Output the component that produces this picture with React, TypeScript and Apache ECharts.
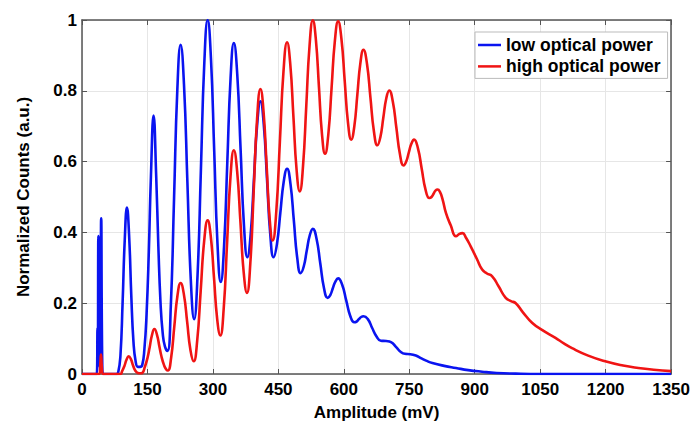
import React, { useEffect, useRef } from "react";
import * as echarts from "echarts";

const xTicks = { min: 0, max: 1350, interval: 150 };
const yTicks = { min: 0, max: 1, interval: 0.2 };

const seriesNames = ["low optical power", "high optical power"];

// [amplitude (mV), normalized counts]
const lowPower: [number, number][] = [
  [0, 0], [34, 0], [35.5, 0.13], [36.3, 0.02], [37.5, 0.39], [39.5, 0.03], [42, 0.04], [44, 0.44], [46.5, 0.02], [49, 0],
  [79, 0], [83, 0.005], [88, 0.05], [93, 0.2], [98, 0.38], [103, 0.47], [108, 0.39], [113, 0.22], [118, 0.09], [123, 0.035], [128, 0.02], [133, 0.02],
  [138, 0.025], [143, 0.07], [148, 0.17], [153, 0.34], [158, 0.56], [164, 0.73], [170, 0.56], [175, 0.36], [180, 0.2], [185, 0.115], [190, 0.078], [196, 0.065],
  [203.5, 0.191], [211, 0.498], [218.5, 0.804], [226, 0.93], [233.75, 0.817], [241.5, 0.543], [249.25, 0.268], [257, 0.155],
  [264.75, 0.278], [272.5, 0.578], [280.25, 0.877], [288, 1.0], [295.5, 0.892], [303, 0.63], [310.5, 0.368], [318, 0.26],
  [325.5, 0.359], [333, 0.598], [340.5, 0.836], [348, 0.935], [355.75, 0.847], [363.5, 0.633], [371.25, 0.418], [379, 0.33],
  [386.5, 0.394], [394, 0.55], [401.5, 0.706], [409, 0.77], [416.5, 0.706], [424, 0.55], [431.5, 0.394], [439, 0.33],
  [446.75, 0.367], [454.5, 0.455], [462.25, 0.543], [470, 0.58], [477.75, 0.537], [485.5, 0.433], [493.25, 0.328], [501, 0.285],
  [508, 0.303], [515, 0.348], [522, 0.392], [529, 0.41], [537.5, 0.382], [546, 0.313], [554.5, 0.243], [563, 0.215],
  [569, 0.223], [575, 0.243], [581, 0.262], [587, 0.27], [596.25, 0.252], [605.5, 0.208], [614.75, 0.164], [624, 0.146],
  [629.25, 0.148], [634.5, 0.155], [639.75, 0.161], [645, 0.163], [655, 0.155], [665, 0.13], [675, 0.106], [685, 0.094],
  [697, 0.093], [708, 0.09], [720, 0.076], [730, 0.063], [740, 0.057], [752, 0.056], [765, 0.052], [778, 0.044],
  [790, 0.037], [803, 0.031], [830, 0.023], [857, 0.017], [885, 0.011], [917, 0.0065], [950, 0.003], [994, 0.001],
  [1050, 0], [1350, 0],
];

const highPower: [number, number][] = [
  [0, 0], [40, 0], [42, 0.03], [43.5, 0.055], [45.5, 0.02], [48, 0],
  [88, 0], [92, 0.008], [97, 0.022], [102, 0.04], [107, 0.05], [112, 0.042], [117, 0.024], [122, 0.01], [128, 0.003], [134, 0.002], [139, 0.004],
  [144, 0.02], [150, 0.045], [155, 0.075], [160, 0.108], [166, 0.127], [172, 0.11], [177, 0.08], [182, 0.05], [188, 0.025], [193, 0.013], [197, 0.01],
  [204.25, 0.046], [211.5, 0.134], [218.75, 0.221], [226, 0.257], [233.5, 0.225], [241, 0.147], [248.5, 0.068], [256, 0.036],
  [264, 0.094], [272, 0.235], [280, 0.376], [288, 0.434], [295.25, 0.387], [302.5, 0.272], [309.75, 0.156], [317, 0.109],
  [324.75, 0.185], [332.5, 0.371], [340.25, 0.556], [348, 0.632], [355.5, 0.573], [363, 0.431], [370.5, 0.288], [378, 0.229],
  [385.75, 0.313], [393.5, 0.517], [401.25, 0.721], [409, 0.805], [416, 0.742], [423, 0.591], [430, 0.439], [437, 0.377],
  [445.25, 0.459], [453.5, 0.657], [461.75, 0.855], [470, 0.937], [477.25, 0.876], [484.5, 0.727], [491.75, 0.577], [499, 0.516],
  [506.5, 0.587], [514, 0.758], [521.5, 0.928], [529, 0.999], [536, 0.944], [543, 0.811], [550, 0.677], [557, 0.622],
  [564.5, 0.677], [572, 0.809], [579.5, 0.941], [587, 0.996], [594.5, 0.947], [602, 0.829], [609.5, 0.711], [617, 0.662],
  [624, 0.699], [631, 0.789], [638, 0.879], [645, 0.916], [653, 0.877], [661, 0.781], [669, 0.685], [677, 0.646],
  [683.75, 0.669], [690.5, 0.724], [697.25, 0.778], [704, 0.801], [712.25, 0.77], [720.5, 0.695], [728.75, 0.62], [737, 0.589],
  [743, 0.6], [749, 0.626], [755, 0.651], [761, 0.662], [769.75, 0.638], [778.5, 0.58], [787.25, 0.521], [796, 0.497],
  [801, 0.5], [806, 0.51], [810, 0.518], [815, 0.521], [820, 0.515], [826, 0.495], [834, 0.455], [845, 0.42],
  [857, 0.389], [865, 0.396], [872, 0.398], [880, 0.385], [891, 0.36], [905, 0.325], [917, 0.295], [928, 0.284],
  [940, 0.276], [955, 0.247], [971, 0.215], [983, 0.206], [994, 0.2], [1010, 0.175], [1032, 0.144], [1055, 0.124],
  [1085, 0.102], [1105, 0.086], [1123, 0.073], [1160, 0.052], [1199, 0.036], [1240, 0.024], [1275, 0.017], [1310, 0.012],
  [1350, 0.008],
];

const FONT = "'Liberation Sans', Arial, sans-serif";
const FRAME = "#555";
const BLUE = "#0a14f0";
const RED = "#f01414";

export default function App() {
  const ref = useRef<HTMLDivElement>(null);
  useEffect(() => {
    if (!ref.current) return;
    const chart = echarts.init(ref.current, undefined, { renderer: "svg" });
    const labelStyle = { color: "#000", fontFamily: FONT, fontWeight: "bold" as const, fontSize: 17 };
    chart.setOption({
      animation: false,
      backgroundColor: "#fff",
      grid: { left: 82, right: 20, top: 20, bottom: 53, containLabel: false },
      legend: {
        data: seriesNames,
        orient: "vertical",
        left: 475,
        top: 32,
        padding: [4, 7, 3, 3],
        itemGap: 3.4,
        itemWidth: 23,
        itemHeight: 2.5,
        icon: "rect",
        backgroundColor: "#fff",
        borderColor: "#bbb",
        borderWidth: 1,
        borderRadius: 0,
        textStyle: { color: "#000", fontFamily: FONT, fontWeight: "bold", fontSize: 17.5, lineHeight: 18 },
      },
      xAxis: [
        {
          type: "value",
          min: xTicks.min,
          max: xTicks.max,
          interval: xTicks.interval,
          name: "Amplitude (mV)",
          nameLocation: "middle",
          nameGap: 30,
          nameTextStyle: labelStyle,
          axisLabel: { ...labelStyle, margin: 7, formatter: (v: number) => String(v) },
          axisLine: { show: true, onZero: false, lineStyle: { color: FRAME, width: 1.5 } },
          axisTick: { show: true, inside: true, length: 5, lineStyle: { color: FRAME } },
          splitLine: { show: true, lineStyle: { color: "#e6e6e6", width: 1 } },
        },
        {
          type: "value",
          position: "top",
          min: xTicks.min,
          max: xTicks.max,
          interval: xTicks.interval,
          axisLabel: { show: false },
          axisLine: { show: true, onZero: false, lineStyle: { color: FRAME, width: 1.5 } },
          axisTick: { show: true, inside: true, length: 5, lineStyle: { color: FRAME } },
          splitLine: { show: false },
        },
      ],
      yAxis: [
        {
          type: "value",
          min: yTicks.min,
          max: yTicks.max,
          interval: yTicks.interval,
          name: "Normalized Counts (a.u.)",
          nameLocation: "middle",
          nameGap: 50,
          nameTextStyle: labelStyle,
          axisLabel: { ...labelStyle, margin: 5 },
          axisLine: { show: true, onZero: false, lineStyle: { color: FRAME, width: 1.5 } },
          axisTick: { show: true, inside: true, length: 5, lineStyle: { color: FRAME } },
          splitLine: { show: true, lineStyle: { color: "#e6e6e6", width: 1 } },
        },
        {
          type: "value",
          position: "right",
          min: yTicks.min,
          max: yTicks.max,
          interval: yTicks.interval,
          axisLabel: { show: false },
          axisLine: { show: true, onZero: false, lineStyle: { color: FRAME, width: 1.5 } },
          axisTick: { show: true, inside: true, length: 5, lineStyle: { color: FRAME } },
          splitLine: { show: false },
        },
      ],
      series: [
        {
          name: seriesNames[0],
          type: "line",
          data: lowPower,
          symbol: "none",
          smooth: 0.5,
          lineStyle: { color: BLUE, width: 2.6 },
          itemStyle: { color: BLUE },
        },
        {
          name: seriesNames[1],
          type: "line",
          data: highPower,
          symbol: "none",
          smooth: 0.5,
          lineStyle: { color: RED, width: 2.6 },
          itemStyle: { color: RED },
        },
      ],
    });
    return () => chart.dispose();
  }, []);
  return (
    <div
      ref={ref}
      style={{ position: "fixed", left: 0, top: 0, width: 693, height: 427, background: "#fff" }}
    />
  );
}
